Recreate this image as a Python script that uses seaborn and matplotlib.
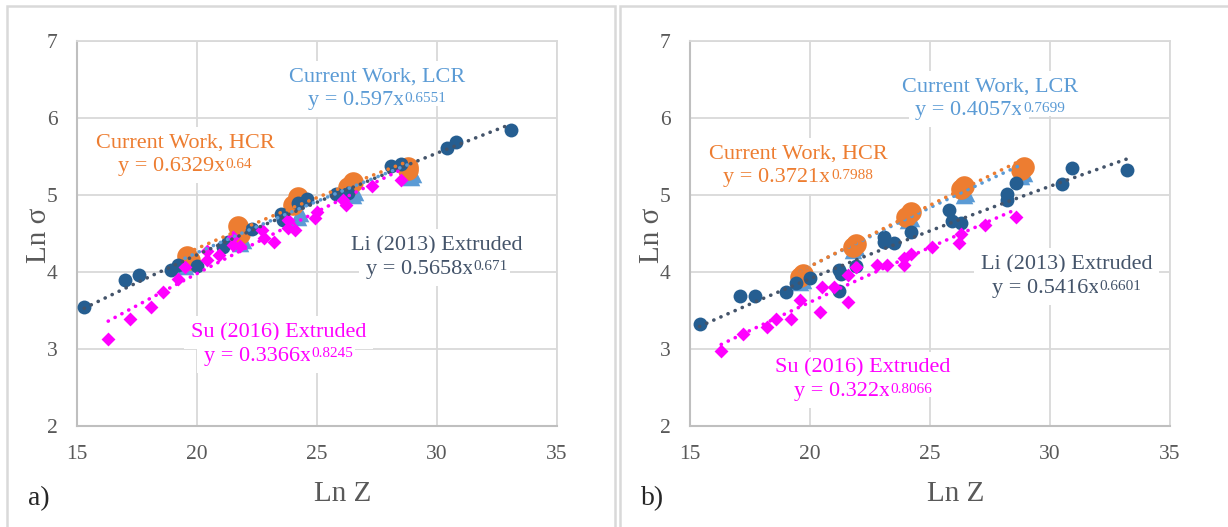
import matplotlib
matplotlib.use("Agg")
import matplotlib.pyplot as plt
import matplotlib.transforms as mtransforms
import numpy as np
import pandas as pd
import seaborn as sns
from matplotlib.patches import Rectangle

# ---------------- data: panel a) ----------------
li_a_x = [15.3, 17.0, 17.6, 18.9, 19.2, 20.0, 21.1, 21.3, 22.3, 23.5, 23.6, 24.2, 24.6,
          25.8, 26.3, 28.1, 28.5, 30.4, 30.8, 33.1]
li_a_y = [3.54, 3.90, 3.96, 4.02, 4.09, 4.08, 4.32, 4.39, 4.56, 4.75, 4.68, 4.90, 4.95,
          5.01, 5.02, 5.38, 5.40, 5.61, 5.69, 5.84]
su_a_x = [16.3, 17.2, 18.1, 18.6, 19.2, 19.5, 20.4, 20.4, 20.9, 21.5, 21.5, 21.8, 22.7,
          22.8, 23.2, 23.8, 23.8, 24.1, 24.9, 25.0, 26.1, 26.2, 27.3, 28.5]
su_a_y = [3.13, 3.39, 3.54, 3.74, 3.91, 4.07, 4.16, 4.27, 4.22, 4.35, 4.46, 4.34, 4.55,
          4.44, 4.39, 4.57, 4.68, 4.55, 4.70, 4.78, 4.94, 4.87, 5.12, 5.19]
lcr_a_x = [19.5, 19.6, 21.8, 21.9, 24.2, 24.3, 26.5, 26.6, 28.9, 29.0]
lcr_a_y = [4.08, 4.12, 4.38, 4.42, 4.72, 4.76, 5.00, 5.04, 5.24, 5.27]
hcr_a_x = [19.6, 19.7, 21.7, 21.8, 24.0, 24.2, 26.3, 26.5, 28.8, 28.8]
hcr_a_y = [4.21, 4.15, 4.60, 4.50, 4.87, 4.97, 5.11, 5.17, 5.37, 5.33]

# power-law trend coefficients  y = c * x^p
li_a_fit = ["0.5658", "0.671"]
su_a_fit = ["0.3366", "0.8245"]
lcr_a_fit = ["0.597", "0.6551"]
hcr_a_fit = ["0.6329", "0.64"]

# ---------------- data: panel b) ----------------
li_b_x = [15.4, 17.1, 17.7, 19.0, 19.4, 20.0, 21.2, 21.2, 21.3, 21.9, 23.1, 23.1, 23.5,
          24.2, 25.8, 25.9, 26.3, 28.2, 28.2, 28.6, 30.5, 30.9, 33.2]
li_b_y = [3.32, 3.69, 3.69, 3.74, 3.86, 3.92, 4.02, 3.75, 3.97, 4.08, 4.45, 4.39, 4.38,
          4.52, 4.80, 4.66, 4.63, 5.01, 4.94, 5.16, 5.14, 5.35, 5.33]
su_b_x = [16.3, 17.2, 18.2, 18.6, 19.2, 19.6, 20.4, 20.5, 21.0, 21.6, 21.6, 21.9, 22.8,
          23.2, 23.9, 23.9, 24.2, 25.1, 26.2, 26.3, 27.3, 28.6]
su_b_y = [2.98, 3.20, 3.29, 3.39, 3.39, 3.63, 3.48, 3.81, 3.81, 3.61, 3.96, 4.07, 4.09,
          4.09, 4.09, 4.18, 4.24, 4.33, 4.38, 4.49, 4.61, 4.72]
lcr_b_x = [19.6, 19.7, 21.8, 21.9, 24.1, 24.2, 26.4, 26.5, 28.8, 28.9]
lcr_b_y = [3.87, 3.90, 4.29, 4.32, 4.68, 4.70, 5.00, 5.03, 5.25, 5.28]
hcr_b_x = [19.6, 19.7, 21.8, 21.9, 24.0, 24.2, 26.3, 26.4, 28.8, 28.9]
hcr_b_y = [3.93, 3.97, 4.33, 4.37, 4.72, 4.78, 5.08, 5.12, 5.33, 5.36]

li_b_fit = ["0.5416", "0.6601"]
su_b_fit = ["0.322", "0.8066"]
lcr_b_fit = ["0.4057", "0.7699"]
hcr_b_fit = ["0.3721", "0.7988"]

series_names = ["Li (2013) Extruded", "Su (2016) Extruded",
                "Current Work, LCR", "Current Work, HCR"]
x_ticks = [15, 20, 25, 30, 35]
y_ticks = [2, 3, 4, 5, 6, 7]
panel_tags = ["a)", "b)"]

# ---------------- style ----------------
sns.set_theme(style="white")
plt.rcParams["font.family"] = ["Liberation Serif", "DejaVu Serif"]

C_LI_PT = "#255E91"
C_LI_TXT = "#44546A"
C_SU = "#FF00FF"
C_LCR = "#5B9BD5"
C_HCR = "#ED7D31"
GRID = "#D9D9D9"
AXIS = "#BFBFBF"
TXT = "#595959"

fig = plt.figure(figsize=(12.28, 5.27), dpi=100)
W, H = 1228, 527

# panel frames
fig.patches.append(Rectangle((7 / W, -0.05), (615 - 7) / W, 1.05 - 6 / H,
                             transform=fig.transFigure, fill=False, ec=GRID, lw=1.8))
fig.patches.append(Rectangle((620 / W, -0.05), 0.6, 1.05 - 6 / H,
                             transform=fig.transFigure, fill=False, ec=GRID, lw=1.8))

equations = []  # (ax, base text, superscript text, x, y) for centring after layout


def trend(ax, xs, fit, color):
    c, p = float(fit[0]), float(fit[1])
    xx = np.linspace(min(xs), max(xs), 60)
    df = pd.DataFrame({"x": xx, "y": c * xx ** p})
    sns.lineplot(data=df, x="x", y="y", ax=ax, color=color, lw=2.6,
                 linestyle=(0, (0.05, 2.1)), dash_capstyle="round", zorder=8)


def label(ax, tx, ty, name, fit, col):
    box = dict(boxstyle="square,pad=0.3", fc="white", ec="none")
    top = mtransforms.offset_copy(ax.transData, fig=fig, x=0, y=12, units="dots")
    ax.text(tx, ty, name, transform=top, color=col, fontsize=16,
            ha="center", va="center", zorder=3, bbox=box)
    bottom = mtransforms.offset_copy(ax.transData, fig=fig, x=0, y=-12, units="dots")
    base = ax.text(tx, ty, "y = %sx" % fit[0], transform=bottom, color=col,
                   fontsize=16, ha="center", va="center", zorder=3, bbox=box)
    sup = ax.annotate(fit[1], xy=(1, 0.97), xycoords=base, xytext=(0.3, 0),
                      textcoords="offset points", color=col, fontsize=11,
                      ha="left", va="top", zorder=3,
                      bbox=dict(boxstyle="square,pad=0.1", fc="white", ec="none"))
    equations.append((ax, base, sup, tx, ty))


def panel(left_px, data, labels, tag):
    ax = fig.add_axes([left_px / W, (H - 426) / H, 480 / W, 385 / H])
    (lix, liy, lif), (sux, suy, suf), (lcx, lcy, lcf), (hcx, hcy, hcf) = data

    sns.scatterplot(x=lcx, y=lcy, ax=ax, marker="^", s=160, color=C_LCR,
                    linewidth=0, zorder=4)
    sns.scatterplot(x=hcx, y=hcy, ax=ax, marker="o", s=220, color=C_HCR,
                    linewidth=0, zorder=5)
    sns.scatterplot(x=lix, y=liy, ax=ax, marker="o", s=100, color=C_LI_PT,
                    linewidth=0, zorder=6)
    sns.scatterplot(x=sux, y=suy, ax=ax, marker="D", s=50, color=C_SU,
                    linewidth=0, zorder=7)

    trend(ax, lix, lif, C_LI_TXT)
    trend(ax, sux, suf, C_SU)
    trend(ax, lcx, lcf, C_LCR)
    trend(ax, hcx, hcf, C_HCR)

    ax.set_xlim(15, 35)
    ax.set_ylim(2, 7)
    ax.set_xticks(x_ticks)
    ax.set_yticks(y_ticks)
    ax.grid(True, color=GRID, lw=1.3)
    ax.set_axisbelow(True)
    for s in ["top", "right"]:
        ax.spines[s].set_color(GRID)
        ax.spines[s].set_linewidth(1.3)
    for s in ["left", "bottom"]:
        ax.spines[s].set_color(AXIS)
        ax.spines[s].set_linewidth(1.5)
    ax.tick_params(length=0, labelsize=15.5, labelcolor=TXT, pad=14)
    ax.set_xlabel("")
    ax.set_ylabel("")

    colors = [C_LI_TXT, C_SU, C_LCR, C_HCR]
    fits = [lif, suf, lcf, hcf]
    for name, fit, col, (tx, ty) in zip(series_names, fits, colors, labels):
        label(ax, tx, ty, name, fit, col)

    fig.text((left_px + 266) / W, 1 - 494 / H, "Ln Z", fontsize=21, color=TXT,
             ha="center", va="center")
    fig.text((left_px - 38) / W, 1 - 235 / H, "Ln σ", fontsize=21, color=TXT,
             ha="center", va="center", rotation=90)
    fig.text((left_px - 49) / W, 1 - 499 / H, tag, fontsize=20, color="#262626",
             ha="left", va="center")
    return ax


panel(77,
      [(li_a_x, li_a_y, li_a_fit), (su_a_x, su_a_y, su_a_fit),
       (lcr_a_x, lcr_a_y, lcr_a_fit), (hcr_a_x, hcr_a_y, hcr_a_fit)],
      [(30.0, 4.19), (23.4, 3.06), (27.5, 6.38), (19.5, 5.52)], panel_tags[0])
panel(690,
      [(li_b_x, li_b_y, li_b_fit), (su_b_x, su_b_y, su_b_fit),
       (lcr_b_x, lcr_b_y, lcr_b_fit), (hcr_b_x, hcr_b_y, hcr_b_fit)],
      [(30.7, 3.94), (22.2, 2.60), (27.5, 6.25), (19.5, 5.38)], panel_tags[1])

# centre each "y = cx" + exponent pair as one unit under its series name
fig.canvas.draw()
renderer = fig.canvas.get_renderer()
for ax, base, sup, tx, ty in equations:
    w = sup.get_window_extent(renderer).width + 0.3 * fig.dpi / 72
    base.set_transform(mtransforms.offset_copy(ax.transData, fig=fig, x=-w / 2,
                                               y=-12, units="dots"))

fig.savefig("out.png", dpi=100)
